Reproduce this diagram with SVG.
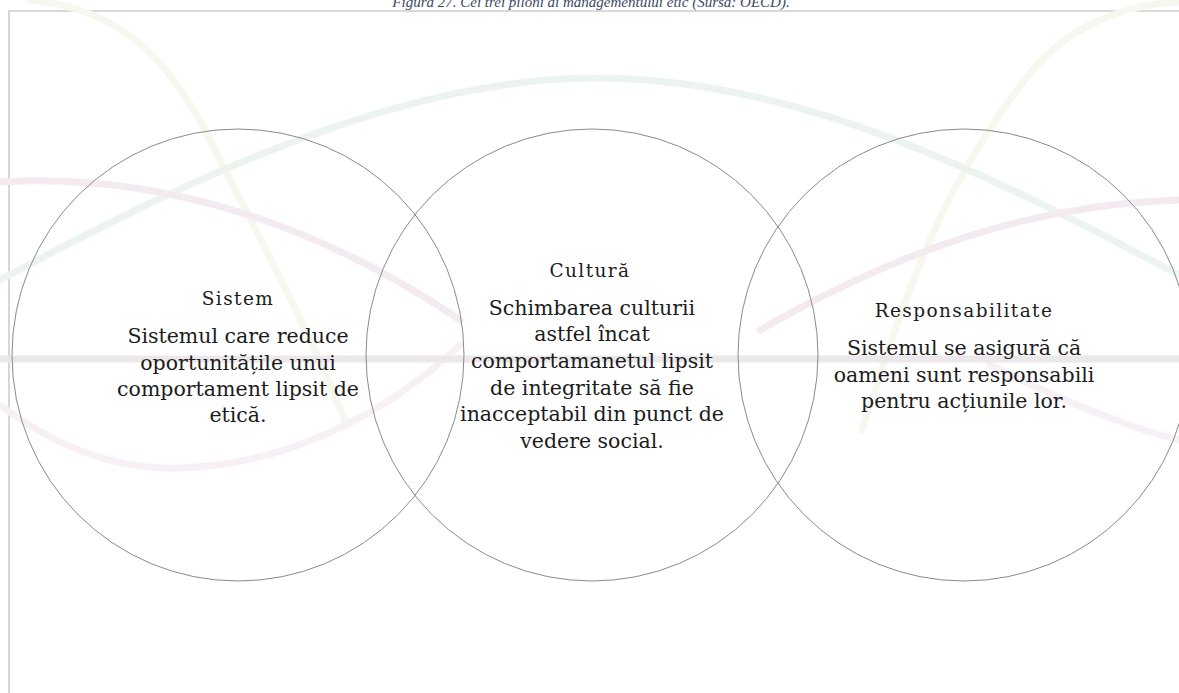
<svg xmlns="http://www.w3.org/2000/svg" width="1179" height="693" viewBox="0 0 1179 693">
<style>
.deco{fill:none;stroke-linecap:round;stroke-width:7}
.yel{stroke:#f6f7ee}
.tea{stroke:#edf4f0}
.pnk{stroke:#f4ebf1}
.pnk2{stroke:#f7f0f4}
.ring{fill:none;stroke:#8a8a8a;stroke-width:1}
.title{font-family:"DejaVu Serif","Liberation Serif",serif;font-size:18.5px;letter-spacing:1.4px;fill:#1c1c1c;text-anchor:middle}
.body{font-family:"DejaVu Serif","Liberation Serif",serif;font-size:20.5px;fill:#1c1c1c;text-anchor:middle}
.cap{font-family:"Liberation Serif",serif;font-style:italic;font-size:15px;fill:#3b4a63;text-anchor:middle}
</style>
<rect width="1179" height="693" fill="#ffffff"/>
<text class="cap" x="591" y="7">Figura 27. Cei trei piloni ai managementului etic (Sursa: OECD).</text>
<path d="M9,693 V11 H1179" fill="none" stroke="#cdcdcd" stroke-width="1.6"/>
<g id="background">
<path class="deco yel" d="M30,0 C120,8 170,60 210,140 S300,310 345,420"/>
<path class="deco yel" d="M1179,2 C1120,4 1070,30 1040,62 S960,170 930,240 S885,360 862,430"/>
<path class="deco tea" d="M0,280 C150,200 380,80 590,78 C800,76 1000,180 1179,275"/>
<path class="deco pnk" d="M0,182 C160,172 320,225 460,320"/>
<path class="deco pnk" d="M1179,200 C1030,205 900,250 760,330"/>
<path class="deco pnk2" d="M0,405 C60,450 120,470 180,468 C280,465 380,420 460,345"/>
<path class="deco pnk2" d="M990,365 C1060,400 1120,425 1179,440"/>
<path d="M0,359 H1179" stroke="#ebe7ea" stroke-width="7"/>
</g>
<g id="connectors"></g>
<g id="node-sistem">
<circle class="ring" cx="238" cy="355" r="226"/>
<text class="title" x="238" y="305">Sistem</text>
<text class="body" x="238" y="343">Sistemul care reduce</text>
<text class="body" x="238" y="370">oportunitățile unui</text>
<text class="body" x="238" y="396">comportament lipsit de</text>
<text class="body" x="238" y="422">etică.</text>
</g>
<g id="node-cultura">
<circle class="ring" cx="592" cy="355" r="226"/>
<text class="title" x="590" y="277">Cultură</text>
<text class="body" x="592" y="315">Schimbarea culturii</text>
<text class="body" x="592" y="341">astfel încat</text>
<text class="body" x="592" y="368">comportamanetul lipsit</text>
<text class="body" x="592" y="395">de integritate să fie</text>
<text class="body" x="592" y="421">inacceptabil din punct de</text>
<text class="body" x="592" y="448">vedere social.</text>
</g>
<g id="node-responsabilitate">
<circle class="ring" cx="964" cy="355" r="226"/>
<text class="title" x="964" y="317">Responsabilitate</text>
<text class="body" x="964" y="355">Sistemul se asigură că</text>
<text class="body" x="964" y="382">oameni sunt responsabili</text>
<text class="body" x="964" y="408">pentru acțiunile lor.</text>
</g>
</svg>
